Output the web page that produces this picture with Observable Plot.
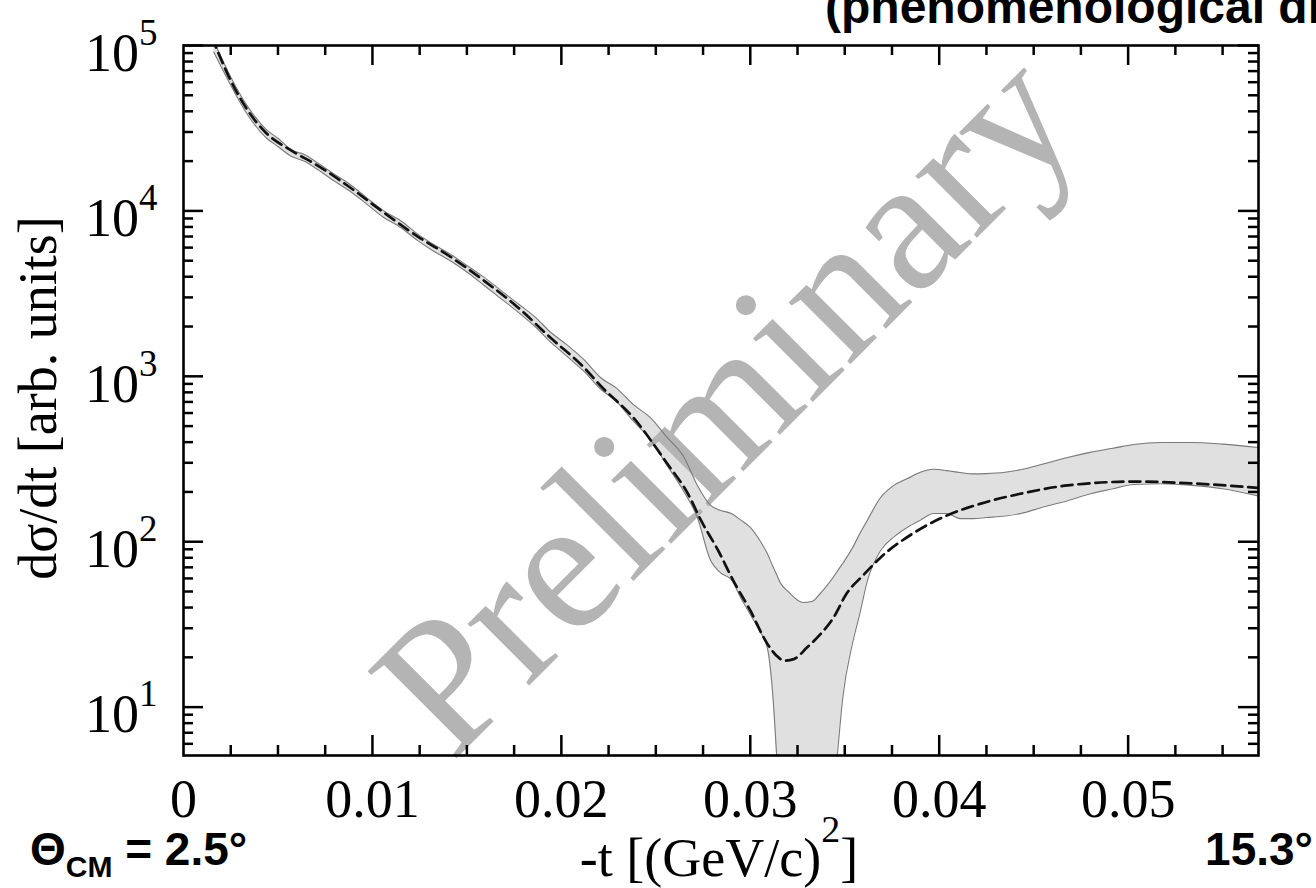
<!DOCTYPE html>
<html><head><meta charset="utf-8">
<script src="https://cdn.jsdelivr.net/npm/d3@7"></script>
<script src="https://cdn.jsdelivr.net/npm/@observablehq/plot@0.6"></script>
<style>body{margin:0;background:#fff;}</style>
</head><body><div id="chart"></div>
<script>
// ---- data ----
const bandT = [0.0016,0.0025,0.0034,0.0044,0.0050,0.0057,0.0064,0.0071,0.0080,0.0088,0.0097,0.0106,0.0115,0.0124,0.0132,0.0141,0.0150,0.0159,0.0168,0.0177,0.0186,0.0194,0.0203,0.0212,0.0221,0.0229,0.0238,0.0247,0.0256,0.0265,0.0272,0.0279,0.0284,0.0290,0.0295,0.0300,0.0305,0.0309,0.0312,0.0314,0.0316,0.0320,0.0328,0.0333,0.0337,0.0343,0.0346,0.0349,0.0354,0.0358,0.0362,0.0369,0.0376,0.0383,0.0390,0.0397,0.0404,0.0411,0.0418,0.0425,0.0435,0.0445,0.0455,0.0468,0.0480,0.0492,0.0503,0.0518,0.0534,0.0550,0.0570];
const bandLo = [91200,57500,38000,27500,24500,21400,19950,17800,15100,13200,11000,9120,7940,6610,5750,5010,4270,3550,2950,2450,2000,1620,1320,1070,832,708,537,417,288,200,140,76.9,65.2,58.9,45.7,36.3,28.8,22.9,11.5,5.0,2,2,2,2,2,2,5.0,11.5,24.0,36.8,58.2,88.5,107,122,135,148,148,138,138,140,143,150,162,177,195,209,222,224,219,209,188];
const bandHi = [107200,64600,42700,30900,27500,23400,21900,19500,16600,14500,12000,10000,8710,7240,6310,5500,4680,3980,3310,2750,2290,1860,1550,1260,977,851,676,564,427,323,219,166,155,148,135,122,102,84.9,70.8,63.1,56.2,50.1,42.9,43.7,48.6,58.9,66.1,74.1,91.2,112,135,185,219,240,263,274,269,262,257,258,263,275,295,323,347,367,387,398,398,389,370];
const lineT = [0.0015,0.0025,0.0034,0.0044,0.0057,0.0071,0.0088,0.0106,0.0124,0.0141,0.0159,0.0177,0.0194,0.0212,0.0221,0.0238,0.0256,0.0267,0.0274,0.0283,0.0291,0.0300,0.0309,0.0314,0.0318,0.0323,0.0330,0.0337,0.0344,0.0351,0.0360,0.0369,0.0386,0.0404,0.0422,0.0443,0.0468,0.0503,0.0534,0.0570];
const lineV = [112200,61400,40500,29400,23200,18800,13900,9770,7000,5310,3790,2610,1720,1130,871,564,297,195,134,88.5,58.2,38.4,24.2,20.4,19.1,19.5,22.9,27.5,34.7,48.6,63.1,80.4,112,144,170,195,219,231,225,211];

const xDomain = [0, 0.0569];
const yDomain = [5.1, 100000];
const xTickLabels = [0, 0.01, 0.02, 0.03, 0.04, 0.05];
const xMajor = [0.01, 0.02, 0.03, 0.04, 0.05];
const xMinor = [0.0025,0.005,0.0075,0.0125,0.015,0.0175,0.0225,0.025,0.0275,0.0325,0.035,0.0375,0.0425,0.045,0.0475,0.0525,0.055];
const yMajor = [10, 100, 1000, 10000, 100000];
const yMinor = [6,7,8,9,20,30,40,50,60,70,80,90,200,300,400,500,600,700,800,900,2000,3000,4000,5000,6000,7000,8000,9000,20000,30000,40000,50000,60000,70000,80000,90000];
const watermark = [{t: 0.0142, v: 4.6, label: "Preliminary"}];

const titleText = "(phenomenological distribution)";
const yLabel = "dσ/dt [arb. units]";
const leftAngle = "2.5°";
const rightAngle = "15.3°";

// ---- chart ----
const serif = '"Liberation Serif","Times New Roman",Times,serif';
const sans = '"Liberation Sans",Arial,Helvetica,sans-serif';
const band = bandT.map((t, i) => ({t, lo: bandLo[i], hi: bandHi[i]}));
const dashed = lineT.map((t, i) => ({t, v: lineV[i]}));

const W = 1316, H = 888, mL = 183, mR = 58, mT = 45, mB = 133;
const fw = W - mL - mR, fh = H - mT - mB;
const tk = {stroke: "#000", strokeWidth: 2.5};

const plot = Plot.plot({
  width: W, height: H,
  marginLeft: mL, marginRight: mR, marginTop: mT, marginBottom: mB,
  style: {background: "#fff", color: "#000", fontFamily: serif},
  x: {domain: xDomain},
  y: {type: "log", domain: yDomain},
  marks: [
    Plot.areaY(band, {x: "t", y1: "lo", y2: "hi", fill: "#e0e0e0", curve: "monotone-x", clip: true}),
    Plot.text(watermark, {x: "t", y: "v", text: "label", rotate: -45, fontSize: 190, fontFamily: serif,
      fill: "#b4b4b4", textAnchor: "start", lineAnchor: "bottom"}),
    Plot.line(band, {x: "t", y: "hi", stroke: "#7a7a7a", strokeWidth: 1.1, curve: "monotone-x", clip: true}),
    Plot.line(band, {x: "t", y: "lo", stroke: "#7a7a7a", strokeWidth: 1.1, curve: "monotone-x", clip: true}),
    Plot.line(dashed, {x: "t", y: "v", stroke: "#111", strokeWidth: 2.7, strokeDasharray: "11,6", curve: "monotone-x", clip: true}),
    Plot.ruleX(xMajor, {...tk, insetTop: fh - 20}),
    Plot.ruleX(xMajor, {...tk, insetBottom: fh - 20}),
    Plot.ruleX(xMinor, {...tk, insetTop: fh - 10}),
    Plot.ruleX(xMinor, {...tk, insetBottom: fh - 10}),
    Plot.ruleY(yMajor, {...tk, insetRight: fw - 20}),
    Plot.ruleY(yMajor, {...tk, insetLeft: fw - 20}),
    Plot.ruleY(yMinor, {...tk, insetRight: fw - 10}),
    Plot.ruleY(yMinor, {...tk, insetLeft: fw - 10}),
    Plot.frame({stroke: "#000", strokeWidth: 2.6}),
    Plot.axisX({ticks: xTickLabels, tickFormat: d => d === 0 ? "0" : d.toFixed(2), tickSize: 0, tickPadding: 23,
      fontSize: 54, fontFamily: serif, label: null}),
    Plot.axisY({ticks: yMajor, tickFormat: d => "10^" + Math.round(Math.log10(d)), tickSize: 0, tickPadding: 26,
      fontSize: 54, fontFamily: serif, dy: 8, label: null})
  ]
});

const svg = d3.select(plot);
svg.attr("font-family", serif);

// superscript exponents on y tick labels
svg.selectAll('g[aria-label="y-axis tick label"] text').each(function () {
  const s = this.textContent;
  const [base, exp] = s.split("^");
  const t = d3.select(this);
  t.text(null);
  t.append("tspan").text(base);
  t.append("tspan").attr("dy", -26).attr("font-size", 37).text(exp);
});

// y axis label
svg.append("text")
  .attr("transform", "translate(56,398) rotate(-90)")
  .attr("text-anchor", "middle").attr("font-family", serif).attr("font-size", 54).attr("fill", "#000")
  .text(yLabel);

// x axis label with superscript
const xl = svg.append("text")
  .attr("x", 719).attr("y", 876).attr("text-anchor", "middle")
  .attr("font-family", serif).attr("font-size", 54).attr("fill", "#000");
xl.append("tspan").text("-t [(GeV/c)");
xl.append("tspan").attr("dy", -34).attr("font-size", 38).text("2");
xl.append("tspan").attr("dy", 34).text("]");

// angle annotations
const la = svg.append("text").attr("x", 30).attr("y", 865).attr("text-anchor", "start")
  .attr("font-family", sans).attr("font-weight", "bold").attr("font-size", 46).attr("fill", "#000");
la.append("tspan").text("Θ");
la.append("tspan").attr("dy", 12).attr("font-size", 30).text("CM");
la.append("tspan").attr("dy", -12).text(" = " + leftAngle);

svg.append("text").attr("x", 1313).attr("y", 865).attr("text-anchor", "end")
  .attr("font-family", sans).attr("font-weight", "bold").attr("font-size", 46).attr("fill", "#000")
  .text(rightAngle);

// title (cut by the top and right edges as in the reference)
svg.append("text").attr("x", 825).attr("y", 23).attr("text-anchor", "start")
  .attr("font-family", sans).attr("font-weight", "bold").attr("font-size", 48).attr("fill", "#000")
  .text(titleText);

document.getElementById("chart").appendChild(plot);
</script>
</body></html>
